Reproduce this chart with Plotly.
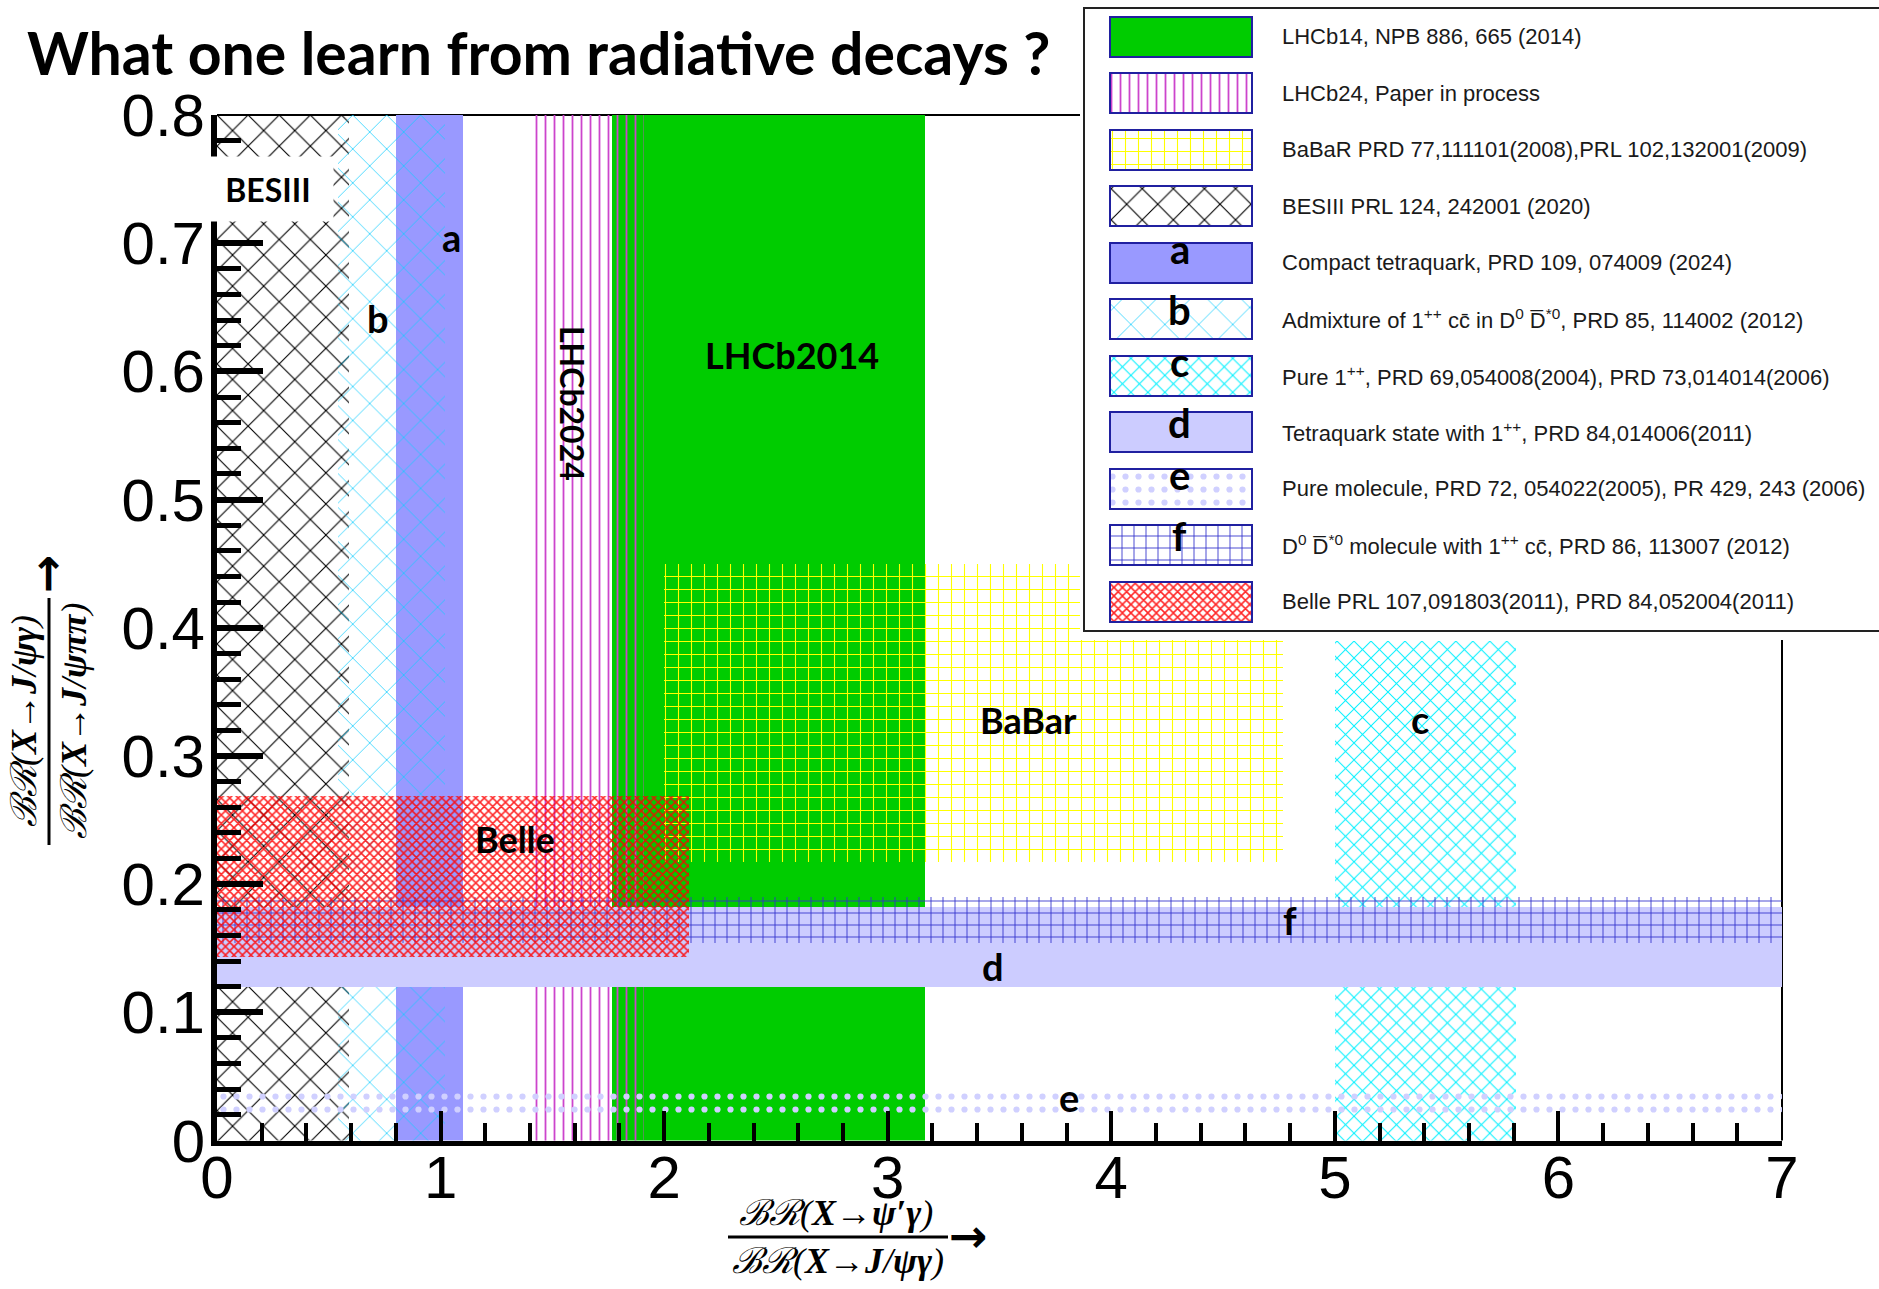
import plotly.graph_objects as go

W, H = 1879, 1289

# ---------------- data ----------------
region_names = ["LHCb14", "BESIII", "a", "b", "LHCb24", "BaBar", "c", "d", "e", "f", "Belle"]
x_lo = [1.765, 0.00, 0.80, 0.54, 1.42, 2.00, 5.00, 0.00, 0.00, 0.000, 0.000]
x_hi = [3.165, 0.59, 1.10, 1.02, 1.91, 4.77, 5.81, 7.00, 7.00, 7.000, 2.110]
y_lo = [0.000, 0.00, 0.00, 0.00, 0.00, 0.217, 0.00, 0.120, 0.020, 0.154, 0.143]
y_hi = [0.800, 0.80, 0.80, 0.80, 0.80, 0.450, 0.39, 0.182, 0.040, 0.190, 0.269]

label_text = ["BESIII", "a", "b", "LHCb2024", "LHCb2014", "BaBar", "c", "Belle", "f", "d", "e"]
label_x = [0.23, 1.05, 0.72, 1.59, 2.57, 3.63, 5.38, 1.335, 4.80, 3.47, 3.81]
label_y = [0.742, 0.705, 0.642, 0.575, 0.613, 0.328, 0.329, 0.2355, 0.172, 0.136, 0.034]

legend_keys = ["LHCb14", "LHCb24", "BaBar", "BESIII", "a", "b", "c", "d", "e", "f", "Belle"]
legend_letters = ["", "", "", "", "a", "b", "c", "d", "e", "f", ""]
legend_texts = [
    "LHCb14, NPB 886, 665 (2014)",
    "LHCb24, Paper in process",
    "BaBaR PRD 77,111101(2008),PRL 102,132001(2009)",
    "BESIII PRL 124, 242001 (2020)",
    "Compact tetraquark, PRD 109, 074009 (2024)",
    "Admixture of 1<sup>++</sup> cc\u0304 in D<sup>0</sup> D\u0305<sup>*0</sup>, PRD 85, 114002 (2012)",
    "Pure 1<sup>++</sup>, PRD 69,054008(2004), PRD 73,014014(2006)",
    "Tetraquark state with 1<sup>++</sup>, PRD 84,014006(2011)",
    "Pure molecule, PRD 72, 054022(2005), PR 429, 243 (2006)",
    "D<sup>0</sup> D\u0305<sup>*0</sup> molecule with 1<sup>++</sup> cc\u0304, PRD 86, 113007 (2012)",
    "Belle PRL 107,091803(2011), PRD 84,052004(2011)",
]

x_ticks = [0, 1, 2, 3, 4, 5, 6, 7]
y_ticks = [0, 0.1, 0.2, 0.3, 0.4, 0.5, 0.6, 0.7, 0.8]
y_ticktext = ["0", "0.1", "0.2", "0.3", "0.4", "0.5", "0.6", "0.7", "0.8"]

# ---------------- styles ----------------
T = "rgba(0,0,0,0)"
styles = {
    "LHCb14": dict(color="#00cc00"),
    "BESIII": dict(shape="x", fg="#000000", size=22, sol=0.10),
    "a": dict(color="#9999ff"),
    "b": dict(shape="x", fg="#11ccff", size=24, sol=0.06),
    "LHCb24": dict(shape="|", fg="#cc44cc", size=9, sol=0.2),
    "BaBar": dict(shape="+", fg="#ffff00", size=13, sol=0.16),
    "c": dict(shape="x", fg="#00f0ff", size=12, sol=0.16),
    "d": dict(color="#ccccff"),
    "e": dict(shape=".", fg="#d0d0ff", size=13, sol=0.18),
    "f": dict(shape="+", fg="#3333cc", size=12, sol=0.14),
    "Belle": dict(shape="x", fg="rgba(255,0,0,0.85)", size=6, sol=0.45),
}


def marker_for(key, line_color=T, line_width=0):
    s = styles[key]
    if "color" in s:
        return dict(color=s["color"], line=dict(color=line_color, width=line_width))
    return dict(color=T, line=dict(color=line_color, width=line_width),
                pattern=dict(shape=s["shape"], fgcolor=s["fg"], bgcolor=T,
                             size=s["size"], solidity=s["sol"], fillmode="replace"))


fig = go.Figure()

# main regions
for name, xl, xh, yl, yh in zip(region_names, x_lo, x_hi, y_lo, y_hi):
    fig.add_trace(go.Bar(x=[(xl + xh) / 2], y=[yh - yl], base=[yl], width=[xh - xl],
                         marker=marker_for(name), xaxis="x", yaxis="y",
                         showlegend=False, hoverinfo="skip"))

# ---------------- legend panel (second axes) ----------------
leg_x0_px, leg_y0_px, leg_y1_px = 1080, 2, 640
row_px, row0_px = 56.5, 36.7
rmin = -(row0_px - leg_y0_px) / row_px
rmax = rmin + (leg_y1_px - leg_y0_px) / row_px

fig.add_trace(go.Bar(x=[0.53], y=[11.02], base=[-0.5], width=[1.05],
                     marker=dict(color="white", line=dict(color="#222222", width=2)),
                     xaxis="x2", yaxis="y2", showlegend=False, hoverinfo="skip"))
for i, key in enumerate(legend_keys):
    fig.add_trace(go.Bar(x=[0.126], y=[0.708], base=[i - 0.354], width=[0.178],
                         marker=marker_for(key, "#2020a0", 2),
                         xaxis="x2", yaxis="y2", showlegend=False, hoverinfo="skip"))

annotations = []
for i, (txt, let) in enumerate(zip(legend_texts, legend_letters)):
    annotations.append(dict(x=0.250, y=i, xref="x2", yref="y2", text=txt, showarrow=False,
                            xanchor="left", yanchor="middle",
                            font=dict(family="Liberation Sans, Arial, sans-serif", size=22, color="#1a1a1a")))
    if let:
        dy = -0.24 if let in "ace" else -0.16
        annotations.append(dict(x=0.125, y=i + dy, xref="x2", yref="y2", text=let, showarrow=False,
                                xanchor="center", yanchor="middle",
                                font=dict(family="Lato, sans-serif", size=40, color="black", weight="bold")))

# plot labels
for t, lx, ly in zip(label_text, label_x, label_y):
    big = t in ("LHCb2014", "BaBar", "Belle")
    size = 36 if big else (32 if t in ("BESIII", "LHCb2024") else 38)
    ann = dict(x=lx, y=ly, xref="x", yref="y", text=t, showarrow=False,
               xanchor="center", yanchor="middle",
               font=dict(family="Lato, sans-serif", size=size, color="black", weight="bold"))
    if t == "LHCb2024":
        ann["textangle"] = 90
    if t == "BESIII":
        ann.update(bgcolor="white", width=128, height=62)
    annotations.append(ann)

# title
annotations.append(dict(x=25 / W, y=1 - 52.7 / H, xref="paper", yref="paper",
                        text="What one learn from radiative decays ?", showarrow=False,
                        xanchor="left", yanchor="middle",
                        font=dict(family="Lato, sans-serif", size=59, color="black", weight="bold")))

mathfont = dict(family="Liberation Serif, DejaVu Serif, serif", size=36, color="black")
arrowfont = dict(family="DejaVu Sans, sans-serif", size=46, color="black")


def paper_ann(px, py, text, font, angle=0, xa="center", ya="middle"):
    return dict(x=px / W, y=1 - py / H, xref="paper", yref="paper", showarrow=False,
                xanchor=xa, yanchor=ya, textangle=angle, text=text, font=font)


annotations += [
    # x title
    paper_ann(836, 1235, "<i>\u212c\u211b(<b>X</b>\u2192<b>\u03c8\u2032\u03b3</b>)</i>", mathfont, ya="bottom"),
    paper_ann(838, 1239, "<i>\u212c\u211b(<b>X</b>\u2192<b>J</b>/<b>\u03c8\u03b3</b>)</i>", mathfont, ya="top"),
    paper_ann(969, 1236, "<b>\u2192</b>", arrowfont),
    # y title
    paper_ann(46, 721, "<i>\u212c\u211b(<b>X</b>\u2192<b>J</b>/<b>\u03c8\u03b3</b>)</i>", mathfont, angle=-90, xa="right"),
    paper_ann(52, 721, "<i>\u212c\u211b(<b>X</b>\u2192<b>J</b>/<b>\u03c8\u03c0\u03c0</b>)</i>", mathfont, angle=-90, xa="left"),
    paper_ann(47, 574, "<b>\u2192</b>", arrowfont, angle=-90),
]

shapes = [
    # fraction bars
    dict(type="line", xref="paper", yref="paper", x0=728 / W, x1=948 / W, y0=1 - 1237 / H, y1=1 - 1237 / H,
         line=dict(color="black", width=3)),
    dict(type="line", xref="paper", yref="paper", x0=49 / W, x1=49 / W, y0=1 - 598 / H, y1=1 - 845 / H,
         line=dict(color="black", width=3)),
    # top / right frame
    dict(type="line", xref="x domain", yref="y domain", x0=0, x1=1, y0=1, y1=1, layer="below",
         line=dict(color="black", width=2)),
    dict(type="line", xref="x domain", yref="y domain", x0=1, x1=1, y0=0, y1=1, layer="below",
         line=dict(color="black", width=2)),
]

tickfont = dict(family="Liberation Sans, Arial, sans-serif", size=60, color="black")
fig.update_layout(
    width=W, height=H,
    margin=dict(l=0, r=0, t=0, b=0, pad=0, autoexpand=False),
    paper_bgcolor="white", plot_bgcolor="white",
    barmode="overlay", bargap=0,
    showlegend=False,
    xaxis=dict(domain=[217 / W, 1782 / W], range=[0, 7], tickvals=x_ticks,
               ticks="inside", ticklen=30, tickwidth=4, tickcolor="black",
               minor=dict(ticks="inside", dtick=0.2, ticklen=18, tickwidth=4, tickcolor="black"),
               showline=True, linewidth=5, linecolor="black", showgrid=False, zeroline=False,
               tickfont=tickfont, ticklabelstandoff=-20, anchor="y", automargin=False),
    yaxis=dict(domain=[1 - 1140.5 / H, 1 - 115 / H], range=[0, 0.8], tickvals=y_ticks,
               ticktext=y_ticktext,
               ticks="inside", ticklen=46, tickwidth=6, tickcolor="black",
               minor=dict(ticks="inside", dtick=0.02, ticklen=24, tickwidth=5, tickcolor="black"),
               showline=True, linewidth=6, linecolor="black", showgrid=False, zeroline=False,
               tickfont=tickfont, ticklabelstandoff=-6, anchor="x", automargin=False),
    xaxis2=dict(domain=[leg_x0_px / W, 1.0], range=[0, 1], visible=False, anchor="y2",
                fixedrange=True, automargin=False),
    yaxis2=dict(domain=[1 - leg_y1_px / H, 1 - leg_y0_px / H], range=[rmax, rmin], visible=False,
                anchor="x2", fixedrange=True, automargin=False),
    annotations=annotations,
    shapes=shapes,
)

fig.write_html("out.html", config={"displayModeBar": False},
               post_script="document.body.style.margin='0px';document.body.style.overflow='hidden';")
